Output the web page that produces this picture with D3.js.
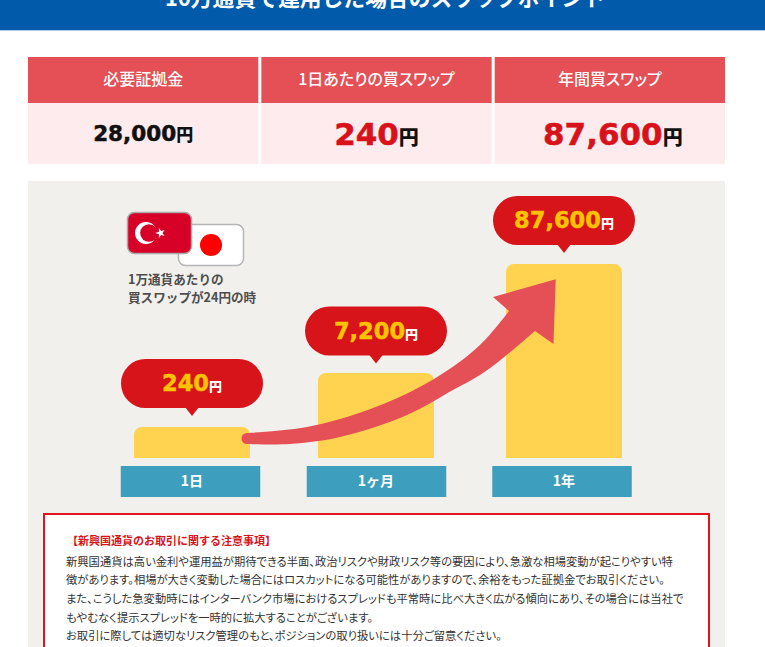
<!DOCTYPE html>
<html>
<head>
<meta charset="utf-8">
<script src="https://cdn.jsdelivr.net/npm/d3@7"></script>
<style>
html, body { margin: 0; padding: 0; background: #fff; overflow: hidden; }
text { font-family: "Noto Sans CJK JP", sans-serif; }
.num { font-family: "DejaVu Sans", sans-serif; font-weight: 700; stroke-width: 0.5; }
.palt { font-feature-settings: "palt"; }
</style>
</head>
<body>
<div id="chart"></div>
<script>
var titleText = "10万通貨で運用した場合のスワップポイント";

// summary table
var tableHeads = ["必要証拠金", "1日あたりの買スワップ", "年間買スワップ"];
var tableValues = ["28,000", "240", "87,600"];

// bars
var periods = ["1日", "1ヶ月", "1年"];
var swapValues = [240, 7200, 87600];
var swapLabels = ["240", "7,200", "87,600"];

var flagNote = ["1万通貨あたりの", "買スワップが24円の時"];

var noteTitle = "【新興国通貨のお取引に関する注意事項】";
var noteLines = [
    "新興国通貨は高い金利や運用益が期待できる半面、政治リスクや財政リスク等の要因により、急激な相場変動が起こりやすい特",
    "徴があります。相場が大きく変動した場合にはロスカットになる可能性がありますので、余裕をもった証拠金でお取引ください。",
    "また、こうした急変動時にはインターバンク市場におけるスプレッドも平常時に比べ大きく広がる傾向にあり、その場合には当社で",
    "もやむなく提示スプレッドを一時的に拡大することがございます。",
    "お取引に際しては適切なリスク管理のもと、ポジションの取り扱いには十分ご留意ください。"
];

var width = 765, height = 647;
var red = "#e45055", deepRed = "#d7141a";

var svg = d3.select("#chart")
    .append("svg")
    .attr("width", width)
    .attr("height", height)
    .style("display", "block");

// header band, title is cut off by the top of the picture
svg.append("rect").attr("width", width).attr("height", 30).attr("fill", "#025aab");
svg.append("rect").attr("y", 30).attr("width", width).attr("height", 1).attr("fill", "#a9c9e6");
svg.append("text")
    .attr("x", 385)
    .attr("y", 6)
    .attr("text-anchor", "middle")
    .attr("fill", "#fff")
    .attr("font-size", 21.8)
    .attr("font-weight", 700)
    .text(titleText);

// summary table
var col = d3.scaleBand().domain(tableHeads).range([28, 725]).paddingInner(0.013);

var cells = svg.selectAll(".cell").data(tableHeads).enter().append("g").attr("class", "cell");
cells.append("rect")
    .attr("x", function (d) { return col(d); })
    .attr("y", 57)
    .attr("width", col.bandwidth())
    .attr("height", 46)
    .attr("fill", red);
cells.append("rect")
    .attr("x", function (d) { return col(d); })
    .attr("y", 103)
    .attr("width", col.bandwidth())
    .attr("height", 61)
    .attr("fill", "#feebed");
cells.append("text")
    .attr("class", "palt")
    .attr("x", function (d) { return col(d) + col.bandwidth() / 2; })
    .attr("y", 85)
    .attr("text-anchor", "middle")
    .attr("fill", "#fff")
    .attr("font-size", 16)
    .attr("font-weight", 500)
    .text(function (d) { return d; });

var valueText = cells.append("text")
    .attr("x", function (d, i) { return col(d) + col.bandwidth() / 2 + (i === 2 ? 3 : 0); })
    .attr("y", function (d, i) { return i === 0 ? 141 : 145; })
    .attr("text-anchor", "middle");
valueText.append("tspan")
    .attr("class", "num")
    .attr("font-size", function (d, i) { return i === 0 ? 21.5 : 31; })
    .attr("fill", function (d, i) { return i === 0 ? "#111" : "#d8121b"; })
    .attr("stroke", function (d, i) { return i === 0 ? "#111" : "#d8121b"; })
    .text(function (d, i) { return tableValues[i]; });
valueText.append("tspan")
    .attr("font-size", function (d, i) { return i === 0 ? 17 : 20; })
    .attr("font-weight", 900)
    .attr("fill", "#111")
    .text("円");

// grey panel
svg.append("rect")
    .attr("x", 28).attr("y", 181)
    .attr("width", 697).attr("height", height - 181)
    .attr("fill", "#f2f0ed");

// bars: the picture is not to scale, so y is a piecewise scale through the drawn heights
var x = d3.scaleOrdinal().domain(periods).range([192, 376, 564]);
var boxX = d3.scaleOrdinal().domain(periods).range([190.5, 376.5, 562]);
var y = d3.scaleLinear().domain([0, 240, 7200, 87600]).range([458, 427, 373, 264]);

var barW = 116, r = 8;
var bars = svg.selectAll(".bar")
    .data(periods.map(function (p, i) { return {period: p, value: swapValues[i], label: swapLabels[i]}; }))
    .enter().append("g").attr("class", "bar");

bars.append("path")
    .attr("fill", "#ffd34f")
    .attr("d", function (d) {
        var p = d3.path(), l = x(d.period) - barW / 2, t = y(d.value);
        p.moveTo(l, y(0));
        p.lineTo(l, t + r);
        p.arcTo(l, t, l + r, t, r);
        p.lineTo(l + barW - r, t);
        p.arcTo(l + barW, t, l + barW, t + r, r);
        p.lineTo(l + barW, y(0));
        p.closePath();
        return p.toString();
    });

// axis boxes
bars.append("rect")
    .attr("x", function (d) { return boxX(d.period) - 69.75; })
    .attr("y", 466)
    .attr("width", 139.5)
    .attr("height", 31)
    .attr("fill", "#3d9fbd");
bars.append("text")
    .attr("x", function (d) { return x(d.period); })
    .attr("y", 486)
    .attr("text-anchor", "middle")
    .attr("fill", "#fff")
    .attr("font-size", 14)
    .attr("font-weight", 700)
    .text(function (d) { return d.period; });

// arrow: hand traced outline, it is decoration and not tied to the values
var edge = d3.line().curve(d3.curveCatmullRom);
var arrowTop = edge([[247, 433], [307, 427], [373, 408], [434, 379], [480, 345], [509, 311]]);
var arrowHead = "L493,297L555.7,279.3L553.5,344L535,331";
var arrowBottom = edge([[535, 331], [503, 358], [480, 375], [453, 390], [407, 415], [340, 437], [290, 444], [247, 444]]);
svg.append("path")
    .attr("d", arrowTop + arrowHead + "L" + arrowBottom.slice(1) + "A5.5,5.5 0 0 1 247,433Z")
    .attr("fill", red);

// speech bubbles above the bars
var bubbles = svg.selectAll(".bubble")
    .data(bars.data())
    .enter().append("g")
    .attr("class", "bubble")
    .attr("transform", function (d, i) {
        return "translate(" + x(d.period) + "," + (y(d.value) - (i === 1 ? 9.5 : 11)) + ")";
    });
bubbles.append("rect")
    .attr("x", -71).attr("y", -57)
    .attr("width", 142).attr("height", 49)
    .attr("rx", 24.5)
    .attr("fill", deepRed);
bubbles.append("path")
    .attr("d", "M-7,-9L0,0L7,-9Z")
    .attr("fill", deepRed);
var bubbleText = bubbles.append("text")
    .attr("y", -25)
    .attr("text-anchor", "middle");
bubbleText.append("tspan")
    .attr("class", "num")
    .attr("font-size", 22.5)
    .attr("fill", "#fdc300")
    .attr("stroke", "#fdc300")
    .text(function (d) { return d.label; });
bubbleText.append("tspan")
    .attr("font-size", 13)
    .attr("font-weight", 900)
    .attr("fill", "#fff")
    .text("円");

// flags
var jp = svg.append("g");
jp.append("rect")
    .attr("x", 178.5).attr("y", 224.5)
    .attr("width", 65).attr("height", 41)
    .attr("rx", 7)
    .attr("fill", "#fff")
    .attr("stroke", "#b5b5b5")
    .attr("stroke-width", 1.5);
jp.append("circle").attr("cx", 211).attr("cy", 245).attr("r", 11).attr("fill", "#fe0000");

var tr = svg.append("g");
tr.append("rect")
    .attr("x", 127.5).attr("y", 212.5)
    .attr("width", 64).attr("height", 41)
    .attr("rx", 7)
    .attr("fill", "#d70027")
    .attr("stroke", "#a9a9a9")
    .attr("stroke-width", 1.5);
tr.append("circle").attr("cx", 146).attr("cy", 233).attr("r", 11).attr("fill", "#fff");
tr.append("circle").attr("cx", 149).attr("cy", 233).attr("r", 8.8).attr("fill", "#d70027");
tr.append("path")
    .attr("transform", "translate(160.5,233) rotate(-18)")
    .attr("d", d3.symbol().type(d3.symbolStar).size(30)())
    .attr("fill", "#fff");

svg.selectAll(".flagnote").data(flagNote).enter().append("text")
    .attr("class", "flagnote")
    .attr("x", 128)
    .attr("y", function (d, i) { return 284 + i * 18; })
    .attr("fill", "#4d4d4d")
    .attr("font-size", 12.6)
    .attr("font-weight", 700)
    .text(function (d) { return d; });

// notice box
svg.append("rect")
    .attr("x", 44).attr("y", 514)
    .attr("width", 665).attr("height", 150)
    .attr("fill", "#fff")
    .attr("stroke", "#e2141e")
    .attr("stroke-width", 2);
svg.append("text")
    .attr("x", 67)
    .attr("y", 545)
    .attr("fill", "#d7141a")
    .attr("font-size", 11)
    .attr("font-weight", 700)
    .text(noteTitle);
svg.selectAll(".noteline").data(noteLines).enter().append("text")
    .attr("class", "noteline palt")
    .attr("x", 66)
    .attr("y", function (d, i) { return 565.5 + i * 18.7; })
    .attr("fill", "#333")
    .attr("font-size", 11.3)
    .text(function (d) { return d; });
</script>
</body>
</html>
